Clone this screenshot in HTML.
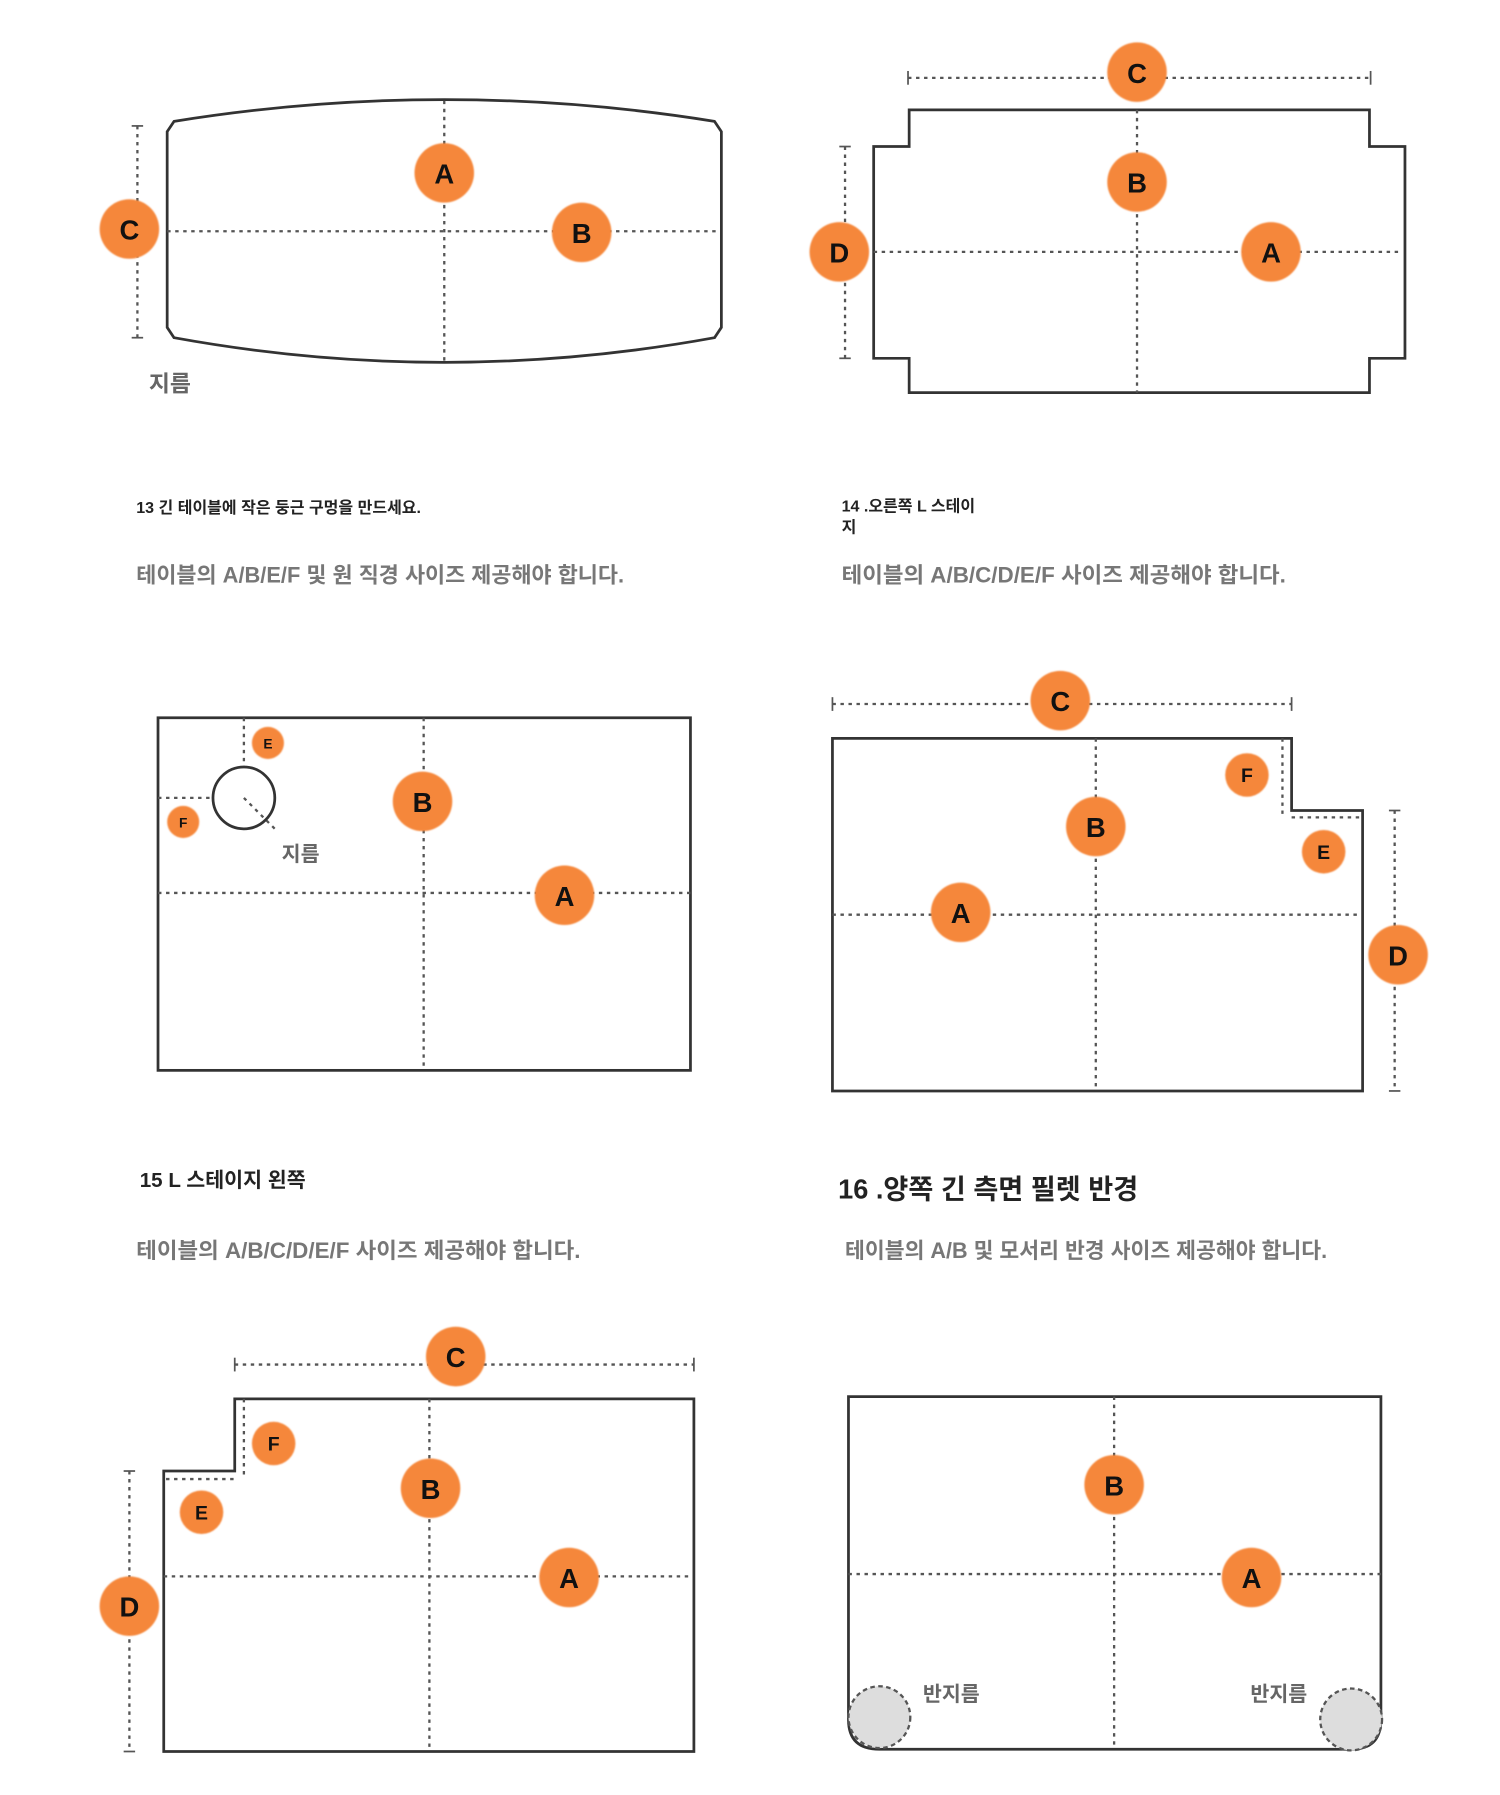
<!DOCTYPE html>
<html><head><meta charset="utf-8">
<style>
html,body{margin:0;padding:0;background:#fff;}
svg{display:block;}
text{font-family:"Liberation Sans","Noto Sans CJK KR",sans-serif;}
</style></head>
<body>
<svg width="1500" height="1795" viewBox="0 0 1310 1568" preserveAspectRatio="none" xmlns="http://www.w3.org/2000/svg">
<defs>
<filter id="soft" x="-20%" y="-20%" width="140%" height="140%"><feGaussianBlur stdDeviation="0.8"/></filter>
</defs>
<style>
.o{fill:none;stroke:#333;stroke-width:2.4;}
.d{fill:none;stroke:#555;stroke-width:2;stroke-dasharray:3 4;}
.bl{fill:#f5873a;filter:url(#soft);}
.bt{font-weight:bold;fill:#111;text-anchor:middle;dominant-baseline:central;}
.lab{fill:#666;font-weight:bold;}
.desc{fill:#777;font-weight:bold;font-size:19px;}
.tit{fill:#222;font-weight:bold;}
</style>

<!-- Panel 1 -->
<path class="o" d="M146,115 L152,106 Q388,68 624,106 L630,115 L630,286 L624,295 Q388,338 152,295 L146,286 Z"/>
<line class="d" x1="388" y1="88" x2="388" y2="317"/>
<line class="d" x1="146" y1="202" x2="628" y2="202"/>
<line class="d" x1="120" y1="110" x2="120" y2="295"/>
<line x1="115" y1="110" x2="125" y2="110" stroke="#555" stroke-width="1.5"/>
<line x1="115" y1="295" x2="125" y2="295" stroke="#555" stroke-width="1.5"/>
<circle class="bl" cx="388" cy="151" r="26"/><text class="bt" x="388" y="152" font-size="24">A</text>
<circle class="bl" cx="508" cy="203" r="26"/><text class="bt" x="508" y="204" font-size="24">B</text>
<circle class="bl" cx="113" cy="200" r="26"/><text class="bt" x="113" y="201" font-size="24">C</text>
<text class="lab" x="130" y="342" font-size="20">지름</text>

<!-- Panel 2 -->
<line class="d" x1="793" y1="68" x2="1197" y2="68"/>
<line x1="793" y1="62" x2="793" y2="74" stroke="#555" stroke-width="1.5"/>
<line x1="1197" y1="62" x2="1197" y2="74" stroke="#555" stroke-width="1.5"/>
<path class="o" d="M794,96 L1196,96 L1196,128 L1227,128 L1227,313 L1196,313 L1196,343 L794,343 L794,313 L763,313 L763,128 L794,128 Z"/>
<line class="d" x1="993" y1="96" x2="993" y2="343"/>
<line class="d" x1="763" y1="220" x2="1225" y2="220"/>
<line class="d" x1="738" y1="128" x2="738" y2="313"/>
<line x1="733" y1="128" x2="743" y2="128" stroke="#555" stroke-width="1.5"/>
<line x1="733" y1="313" x2="743" y2="313" stroke="#555" stroke-width="1.5"/>
<circle class="bl" cx="993" cy="63" r="26"/><text class="bt" x="993" y="64" font-size="24">C</text>
<circle class="bl" cx="993" cy="159" r="26"/><text class="bt" x="993" y="160" font-size="24">B</text>
<circle class="bl" cx="1110" cy="220" r="26"/><text class="bt" x="1110" y="221" font-size="24">A</text>
<circle class="bl" cx="733" cy="220" r="26"/><text class="bt" x="733" y="221" font-size="24">D</text>

<!-- Texts row 1 -->
<text class="tit" x="119" y="448" font-size="14">13 긴 테이블에 작은 둥근 구멍을 만드세요.</text>
<text class="desc" x="119" y="509" textLength="426" lengthAdjust="spacingAndGlyphs">테이블의 A/B/E/F 및 원 직경 사이즈 제공해야 합니다.</text>
<text class="tit" x="735" y="447" font-size="14">14 .오른쪽 L 스테이</text>
<text class="tit" x="735" y="465" font-size="14">지</text>
<text class="desc" x="735" y="509" textLength="388" lengthAdjust="spacingAndGlyphs">테이블의 A/B/C/D/E/F 사이즈 제공해야 합니다.</text>

<!-- Panel 3 -->
<rect class="o" x="138" y="627" width="465" height="308"/>
<line class="d" x1="370" y1="627" x2="370" y2="935"/>
<line class="d" x1="138" y1="780" x2="603" y2="780"/>
<line class="d" x1="213" y1="627" x2="213" y2="670"/>
<line class="d" x1="138" y1="697" x2="186" y2="697"/>
<circle cx="213" cy="697" r="27" fill="none" stroke="#333" stroke-width="2.4"/>
<line class="d" x1="213" y1="697" x2="240" y2="724"/>
<circle class="bl" cx="234" cy="649" r="14"/><text class="bt" x="234" y="650" font-size="12">E</text>
<circle class="bl" cx="160" cy="718" r="14"/><text class="bt" x="160" y="719" font-size="12">F</text>
<circle class="bl" cx="369" cy="700" r="26"/><text class="bt" x="369" y="701" font-size="24">B</text>
<circle class="bl" cx="493" cy="782" r="26"/><text class="bt" x="493" y="783" font-size="24">A</text>
<text class="lab" x="246" y="752" font-size="18">지름</text>

<!-- Panel 4 -->
<line class="d" x1="727" y1="615" x2="1128" y2="615"/>
<line x1="727" y1="609" x2="727" y2="621" stroke="#555" stroke-width="1.5"/>
<line x1="1128" y1="609" x2="1128" y2="621" stroke="#555" stroke-width="1.5"/>
<path class="o" d="M727,645 L1128,645 L1128,708 L1190,708 L1190,953 L727,953 Z"/>
<line class="d" x1="957" y1="645" x2="957" y2="953"/>
<line class="d" x1="727" y1="799" x2="1188" y2="799"/>
<line class="d" x1="1120" y1="645" x2="1120" y2="712"/>
<line class="d" x1="1128" y1="714" x2="1188" y2="714"/>
<line class="d" x1="1218" y1="708" x2="1218" y2="953"/>
<line x1="1213" y1="708" x2="1223" y2="708" stroke="#555" stroke-width="1.5"/>
<line x1="1213" y1="953" x2="1223" y2="953" stroke="#555" stroke-width="1.5"/>
<circle class="bl" cx="926" cy="612" r="26"/><text class="bt" x="926" y="613" font-size="24">C</text>
<circle class="bl" cx="1089" cy="677" r="19"/><text class="bt" x="1089" y="678" font-size="17">F</text>
<circle class="bl" cx="1156" cy="744" r="19"/><text class="bt" x="1156" y="745" font-size="17">E</text>
<circle class="bl" cx="957" cy="722" r="26"/><text class="bt" x="957" y="723" font-size="24">B</text>
<circle class="bl" cx="839" cy="797" r="26"/><text class="bt" x="839" y="798" font-size="24">A</text>
<circle class="bl" cx="1221" cy="834" r="26"/><text class="bt" x="1221" y="835" font-size="24">D</text>

<!-- Texts row 2 -->
<text class="tit" x="122" y="1037" font-size="18">15 L 스테이지 왼쪽</text>
<text class="desc" x="119" y="1099" textLength="388" lengthAdjust="spacingAndGlyphs">테이블의 A/B/C/D/E/F 사이즈 제공해야 합니다.</text>
<text class="tit" x="732" y="1047" font-size="24" fill="#333" textLength="262" lengthAdjust="spacingAndGlyphs">16 .양쪽 긴 측면 필렛 반경</text>
<text class="desc" x="738" y="1099" textLength="421" lengthAdjust="spacingAndGlyphs">테이블의 A/B 및 모서리 반경 사이즈 제공해야 합니다.</text>

<!-- Panel 5 -->
<line class="d" x1="205" y1="1192" x2="606" y2="1192"/>
<line x1="205" y1="1186" x2="205" y2="1198" stroke="#555" stroke-width="1.5"/>
<line x1="606" y1="1186" x2="606" y2="1198" stroke="#555" stroke-width="1.5"/>
<path class="o" d="M205,1222 L606,1222 L606,1530 L143,1530 L143,1285 L205,1285 Z"/>
<line class="d" x1="375" y1="1222" x2="375" y2="1530"/>
<line class="d" x1="143" y1="1377" x2="604" y2="1377"/>
<line class="d" x1="213" y1="1222" x2="213" y2="1290"/>
<line class="d" x1="145" y1="1292" x2="205" y2="1292"/>
<line class="d" x1="113" y1="1285" x2="113" y2="1530"/>
<line x1="108" y1="1285" x2="118" y2="1285" stroke="#555" stroke-width="1.5"/>
<line x1="108" y1="1530" x2="118" y2="1530" stroke="#555" stroke-width="1.5"/>
<circle class="bl" cx="398" cy="1185" r="26"/><text class="bt" x="398" y="1186" font-size="24">C</text>
<circle class="bl" cx="239" cy="1261" r="19"/><text class="bt" x="239" y="1262" font-size="17">F</text>
<circle class="bl" cx="176" cy="1321" r="19"/><text class="bt" x="176" y="1322" font-size="17">E</text>
<circle class="bl" cx="376" cy="1300" r="26"/><text class="bt" x="376" y="1301" font-size="24">B</text>
<circle class="bl" cx="497" cy="1378" r="26"/><text class="bt" x="497" y="1379" font-size="24">A</text>
<circle class="bl" cx="113" cy="1403" r="26"/><text class="bt" x="113" y="1404" font-size="24">D</text>

<!-- Panel 6 -->
<path class="o" d="M741,1220 L1206,1220 L1206,1502 Q1206,1528 1180,1528 L768,1528 Q741,1528 741,1502 Z"/>
<line class="d" x1="973" y1="1220" x2="973" y2="1528"/>
<line class="d" x1="741" y1="1375" x2="1206" y2="1375"/>
<circle cx="768" cy="1500" r="27" fill="#ddd" stroke="#555" stroke-width="2" stroke-dasharray="4 3"/>
<circle cx="1180" cy="1502" r="27" fill="#ddd" stroke="#555" stroke-width="2" stroke-dasharray="4 3"/>
<circle class="bl" cx="973" cy="1297" r="26"/><text class="bt" x="973" y="1298" font-size="24">B</text>
<circle class="bl" cx="1093" cy="1378" r="26"/><text class="bt" x="1093" y="1379" font-size="24">A</text>
<text class="lab" x="806" y="1486" font-size="18">반지름</text>
<text class="lab" x="1092" y="1486" font-size="18">반지름</text>
</svg>
</body></html>
